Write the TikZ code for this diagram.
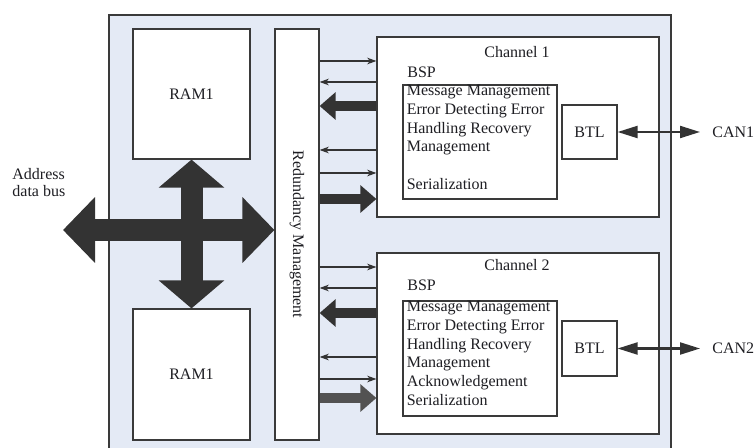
\documentclass[tikz,border=0pt]{standalone}
\usepackage{fontspec}
\setmainfont{Liberation Serif}
\usepackage{tikz}
\usetikzlibrary{arrows.meta}
\definecolor{boardcolor}{RGB}{228,234,245}
\definecolor{linecolor}{RGB}{58,58,58}
\definecolor{buscolor}{RGB}{51,51,51}
\definecolor{textcolor}{RGB}{30,30,35}

\begin{document}
\begin{tikzpicture}[x=0.75pt,y=-0.75pt,semithick,font=\fontsize{12pt}{14pt}\selectfont,text=textcolor,
  thin arrow/.style={-{Stealth[length=7pt,width=5pt]},line width=0.9pt,draw=buscolor},
  thick arrow/.style={-{Triangle[length=12pt,width=20pt]},line width=7.5pt,draw=buscolor},
  can arrow/.style={{Triangle[length=15pt,width=9pt]}-{Triangle[length=15pt,width=9pt]},line width=1.6pt,draw=buscolor},
  bus arrow/.style={{Triangle[length=24pt,width=48pt]}-{Triangle[length=24pt,width=48pt]},line width=16.5pt,draw=buscolor}]
 \tikzstyle{box}=[draw=linecolor,line width=0.9pt,fill=white,inner sep=0pt]
 \tikzstyle{bspbox}=[box,line width=0.6pt,double=white,double distance=0.8pt]
 \tikzstyle{listtext}=[anchor=north west,inner sep=0pt,align=left]

  \useasboundingbox (0,0) rectangle (755,448);
  \fill[boardcolor] (109,15) rectangle (671,455);
  \draw[linecolor,line width=0.9pt] (109,455) -- (109,15) -- (671,15) -- (671,455);

   \node[box,minimum width=87.75pt,minimum height=97.5pt] (ram1) at (191.5,94) {RAM1};
   \node[box,minimum width=87.75pt,minimum height=98.25pt,node distance=210.4pt] (ram2) [below of = ram1] {RAM1};
   \node[box,minimum width=33pt,minimum height=308.25pt] (red) at (297,234.5) {};
   \node[rotate=-90] (redtext) at (red.center) {Redundancy Management};

   \node[box,minimum width=211.5pt,minimum height=135pt] (ch1) at (518,127) {};
   \node[box,minimum width=211.5pt,minimum height=135.75pt,node distance=162.4pt] (ch2) [below of = ch1] {};
   \node (title1) at (517,52) {Channel 1};
   \node (title2) at (517,265) {Channel 2};

   \node[bspbox,minimum width=183.75pt,minimum height=106.5pt] (bsp1) at (522.5,132) {};
   \node[bspbox,minimum width=183.75pt,minimum height=108.75pt] (bsp2) at (522.5,347.5) {};
   \node[anchor=west,inner sep=0pt] (bsplabel1) at (407,72) {BSP};
   \node[anchor=west,inner sep=0pt] (bsplabel2) at (407,285) {BSP};

   \node[box,minimum width=115.5pt,minimum height=85.5pt] (msg1) at (480,142) {};
   \node[box,minimum width=115.5pt,minimum height=86.25pt] (msg2) at (480,358.5) {};
   \node[listtext] (list1) at ([xshift=3pt,yshift=-0.5pt]msg1.north west)
     {Message Management\\Error Detecting Error\\Handling Recovery\\Management\\[14pt]Serialization};
   \node[listtext] (list2) at ([xshift=3pt,yshift=-0.5pt]msg2.north west)
     {Message Management\\Error Detecting Error\\Handling Recovery\\Management\\Acknowledgement\\Serialization};

   \node[box,minimum width=41.25pt,minimum height=40.5pt] (btl1) at (589.5,132) {BTL};
   \node[box,minimum width=41.25pt,minimum height=41.25pt] (btl2) at (589.5,348.5) {BTL};
   \node[anchor=west,inner xsep=9pt] (can1) at (700,132) {CAN1};
   \node[anchor=west,inner xsep=9pt] (can2) at (700,348.5) {CAN2};

   \node[anchor=north west,align=left,inner sep=0pt,font=\fontsize{12pt}{12.75pt}\selectfont] (addr) at (12,168) {Address\\data bus};
   \coordinate (bus) at (63,230);

  \draw[bus arrow] (bus) -- (red.west |- bus);
  \draw[bus arrow,{Triangle[length=21pt,width=48pt]}-{Triangle[length=21pt,width=48pt]}] (ram1.south) -- (ram2.north);

  \path
    (red.east |- 0,61) edge[thin arrow] (ch1.west |- 0,61)
    (ch1.west |- 0,82) edge[thin arrow] (red.east |- 0,82)
    (ch1.west |- 0,106) edge[thick arrow] (red.east |- 0,106)
    (ch1.west |- 0,150) edge[thin arrow] (red.east |- 0,150)
    (red.east |- 0,173) edge[thin arrow] (ch1.west |- 0,173)
    (red.east |- 0,199) edge[thick arrow] (ch1.west |- 0,199)
    (red.east |- 0,267) edge[thin arrow] (ch2.west |- 0,267)
    (ch2.west |- 0,288) edge[thin arrow] (red.east |- 0,288)
    (ch2.west |- 0,313) edge[thick arrow] (red.east |- 0,313)
    (ch2.west |- 0,357) edge[thin arrow] (red.east |- 0,357)
    (red.east |- 0,379) edge[thin arrow] (ch2.west |- 0,379)
    (red.east |- 0,398) edge[thick arrow,draw=buscolor!85] (ch2.west |- 0,398)
    (btl1.east) edge[can arrow] (can1.west)
    (btl2.east) edge[can arrow] (can2.west);

\end{tikzpicture}
\end{document}
